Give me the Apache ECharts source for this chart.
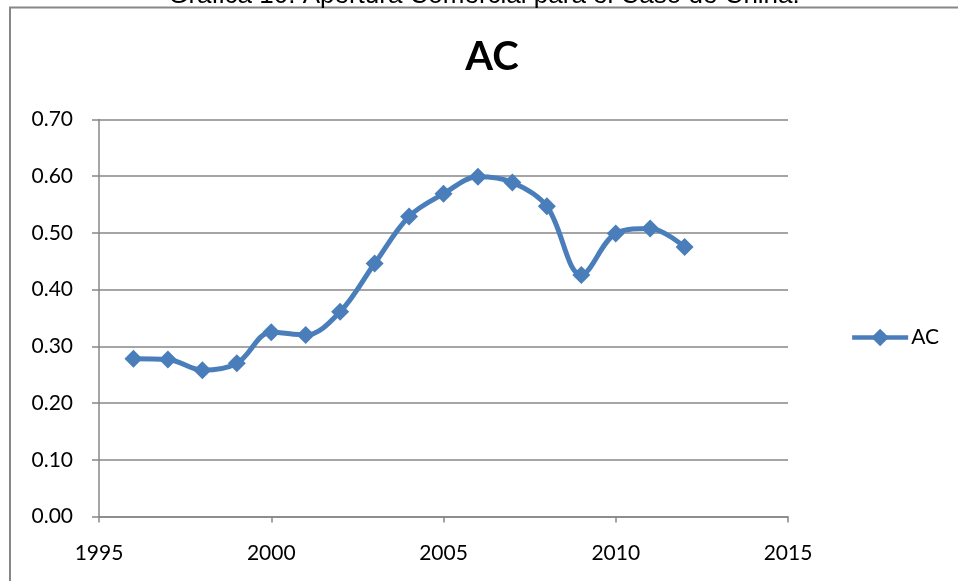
<!DOCTYPE html>
<html>
<head>
<meta charset="utf-8">
<script src="https://cdn.jsdelivr.net/npm/echarts@6/dist/echarts.min.js"></script>
<style>
  html, body { margin: 0; padding: 0; background: #fff; }
  #chart { width: 958px; height: 581px; }
</style>
</head>
<body>
<div id="chart"></div>
<script>
// Apertura comercial (AC), China, 1996-2012
const years = [1996, 1997, 1998, 1999, 2000, 2001, 2002, 2003, 2004, 2005, 2006, 2007, 2008, 2009, 2010, 2011, 2012];
const acValues = [0.278, 0.277, 0.258, 0.270, 0.325, 0.320, 0.361, 0.446, 0.529, 0.569, 0.599, 0.589, 0.547, 0.426, 0.499, 0.508, 0.475];
const yTicks = [0, 0.1, 0.2, 0.3, 0.4, 0.5, 0.6, 0.7];
const xTicks = [1995, 2000, 2005, 2010, 2015];

const seriesName = 'AC';
const heading = 'Gráfica 10. Apertura Comercial para el Caso de China.';

const chart = echarts.init(document.getElementById('chart'));
const grey = '#878787';
const blue = '#4a7ebb';
const font = 'Lato, "Open Sans", sans-serif';

chart.setOption({
  animation: false,
  backgroundColor: '#fff',
  title: {
    text: seriesName,
    left: 487,
    textAlign: 'center',
    top: 32,
    textStyle: { fontFamily: font, fontSize: 40, fontWeight: 'bold', color: '#000' }
  },
  legend: {
    data: [seriesName],
    right: 14,
    top: 322,
    itemWidth: 56,
    itemHeight: 22,
    itemGap: 5,
    lineStyle: { width: 4.5 },
    textStyle: { fontFamily: font, fontSize: 21, color: '#000', padding: [0, 0, 0, -2] }
  },
  grid: { left: 99, right: 170, top: 119.5, bottom: 64.5, containLabel: false },
  xAxis: {
    type: 'value',
    min: xTicks[0],
    max: xTicks[xTicks.length - 1],
    interval: 5,
    splitLine: { show: false },
    axisLine: { lineStyle: { color: grey, width: 1.5 } },
    axisTick: { show: true, length: 6, lineStyle: { color: grey, width: 1.5 } },
    axisLabel: { margin: 26, fontFamily: font, fontSize: 21, color: '#000', formatter: v => String(v) }
  },
  yAxis: {
    type: 'value',
    min: yTicks[0],
    max: yTicks[yTicks.length - 1],
    interval: 0.1,
    axisLine: { show: true, lineStyle: { color: grey, width: 1.5 } },
    axisTick: { show: true, length: 7, lineStyle: { color: grey, width: 1.5 } },
    splitLine: { lineStyle: { color: grey, width: 1.5 } },
    axisLabel: {
      margin: 26,
      fontFamily: font,
      fontSize: 21,
      color: '#000',
      formatter: v => v.toFixed(2)
    }
  },
  series: [{
    name: seriesName,
    type: 'line',
    data: years.map((y, i) => [y, acValues[i]]),
    smooth: 0.35,
    symbol: 'diamond',
    symbolSize: 18,
    itemStyle: { color: blue },
    lineStyle: { color: blue, width: 5 }
  }],
  graphic: [
    {
      type: 'rect',
      shape: { x: 10, y: 7.5, width: 1200, height: 1200 },
      style: { fill: 'none', stroke: grey, lineWidth: 2 },
      silent: true
    },
    {
      type: 'text',
      x: 484,
      y: 9,
      style: {
        text: heading,
        font: '26px "Liberation Sans", Arial, sans-serif',
        fill: '#000',
        textAlign: 'center',
        textVerticalAlign: 'bottom'
      },
      silent: true
    }
  ]
});
</script>
</body>
</html>
